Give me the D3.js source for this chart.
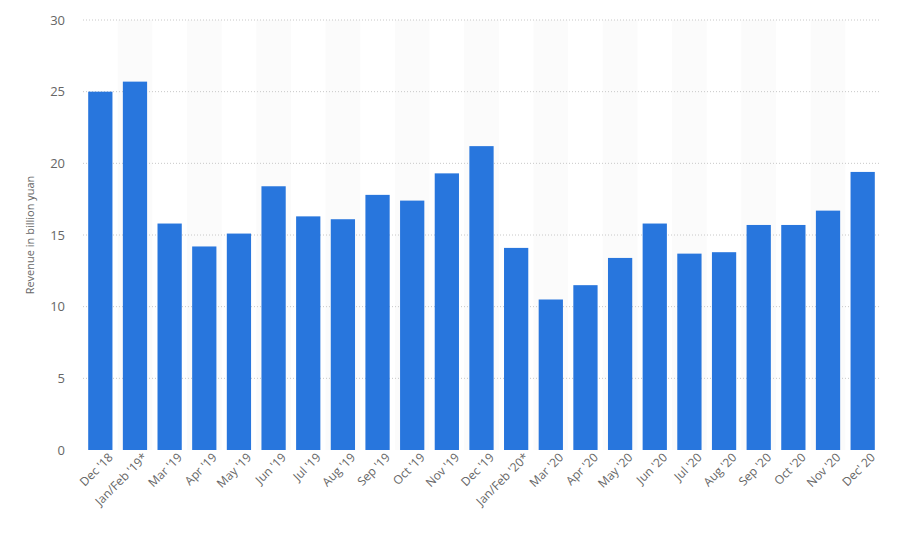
<!DOCTYPE html>
<html><head><meta charset="utf-8">
<script src="https://cdn.jsdelivr.net/npm/d3@7"></script>
<style>body{margin:0;background:#fff;font-family:"Open Sans",sans-serif;}</style>
</head><body><div id="chart"></div>
<script>
const categories = ["Dec '18","Jan/Feb '19*","Mar '19","Apr '19","May '19","Jun '19","Jul '19","Aug '19","Sep '19","Oct '19","Nov '19","Dec '19","Jan/Feb '20*","Mar '20","Apr '20","May '20","Jun '20","Jul '20","Aug '20","Sep '20","Oct '20","Nov '20","Dec' 20"];
const revenue = [25.0,25.7,15.8,14.2,15.1,18.4,16.3,16.1,17.8,17.4,19.3,21.2,14.1,10.5,11.5,13.4,15.8,13.7,13.8,15.7,15.7,16.7,19.4];
const yTicks = [0,5,10,15,20,25,30];

const width = 900, height = 546;
const margin = {top: 20, right: 20, bottom: 96, left: 83};
const graphWidth = width - margin.left - margin.right;
const graphHeight = height - margin.top - margin.bottom;

const svg = d3.select('#chart').append('svg')
    .attr('width', width).attr('height', height);
const graph = svg.append('g')
    .attr('transform', `translate(${margin.left}, ${margin.top})`);

const x = d3.scaleBand().domain(categories).range([0, graphWidth])
    .paddingInner(0.3).paddingOuter(0.15);
const y = d3.scaleLinear().domain([0, 30]).range([graphHeight, 0]);

// alternating column stripes
graph.selectAll('rect.stripe')
    .data(categories.filter((d, i) => i % 2 === 1))
    .enter().append('rect')
    .attr('class', 'stripe')
    .attr('x', d => x(d) - x.step() * x.paddingInner() / 2)
    .attr('width', x.step())
    .attr('y', 0).attr('height', graphHeight)
    .style('fill', '#fbfbfb');

// gridlines
graph.selectAll('line.grid')
    .data(yTicks.filter(t => t > 0))
    .enter().append('line')
    .attr('x1', 0).attr('x2', graphWidth)
    .attr('y1', d => y(d)).attr('y2', d => y(d))
    .style('stroke', '#c8c8c8')
    .style('stroke-dasharray', '1,2');

graph.selectAll('rect.bar')
    .data(revenue)
    .enter().append('rect')
    .attr('class', 'bar')
    .attr('x', (d, i) => x(categories[i]))
    .attr('y', d => y(d))
    .attr('width', x.bandwidth())
    .attr('height', d => graphHeight - y(d))
    .style('fill', '#2876dd');

const yAxis = d3.axisLeft(y).tickValues(yTicks).tickSize(0).tickPadding(18);
const yAxisGroup = graph.append('g').call(yAxis);
yAxisGroup.select('.domain').remove();
yAxisGroup.selectAll('text').style('font-size', '13px').style('fill', '#666').style('font-family', '"Open Sans",sans-serif');

const xAxis = d3.axisBottom(x).tickSize(0).tickPadding(8);
const xAxisGroup = graph.append('g')
    .attr('transform', `translate(0, ${graphHeight})`)
    .call(xAxis);
xAxisGroup.select('.domain').remove();
xAxisGroup.selectAll('text')
    .attr('transform', 'rotate(-45)')
    .attr('text-anchor', 'end')
    .attr('dx', '0.3em')
    .attr('dy', '0.6em')
    .style('font-size', '12px').style('fill', '#666').style('font-family', '"Open Sans",sans-serif');

svg.append('text')
    .attr('transform', `translate(34, ${graphHeight / 2 + margin.top}) rotate(-90)`)
    .style('text-anchor', 'middle')
    .style('font-size', '11px')
    .style('fill', '#666')
    .text('Revenue in billion yuan');
</script></body></html>
